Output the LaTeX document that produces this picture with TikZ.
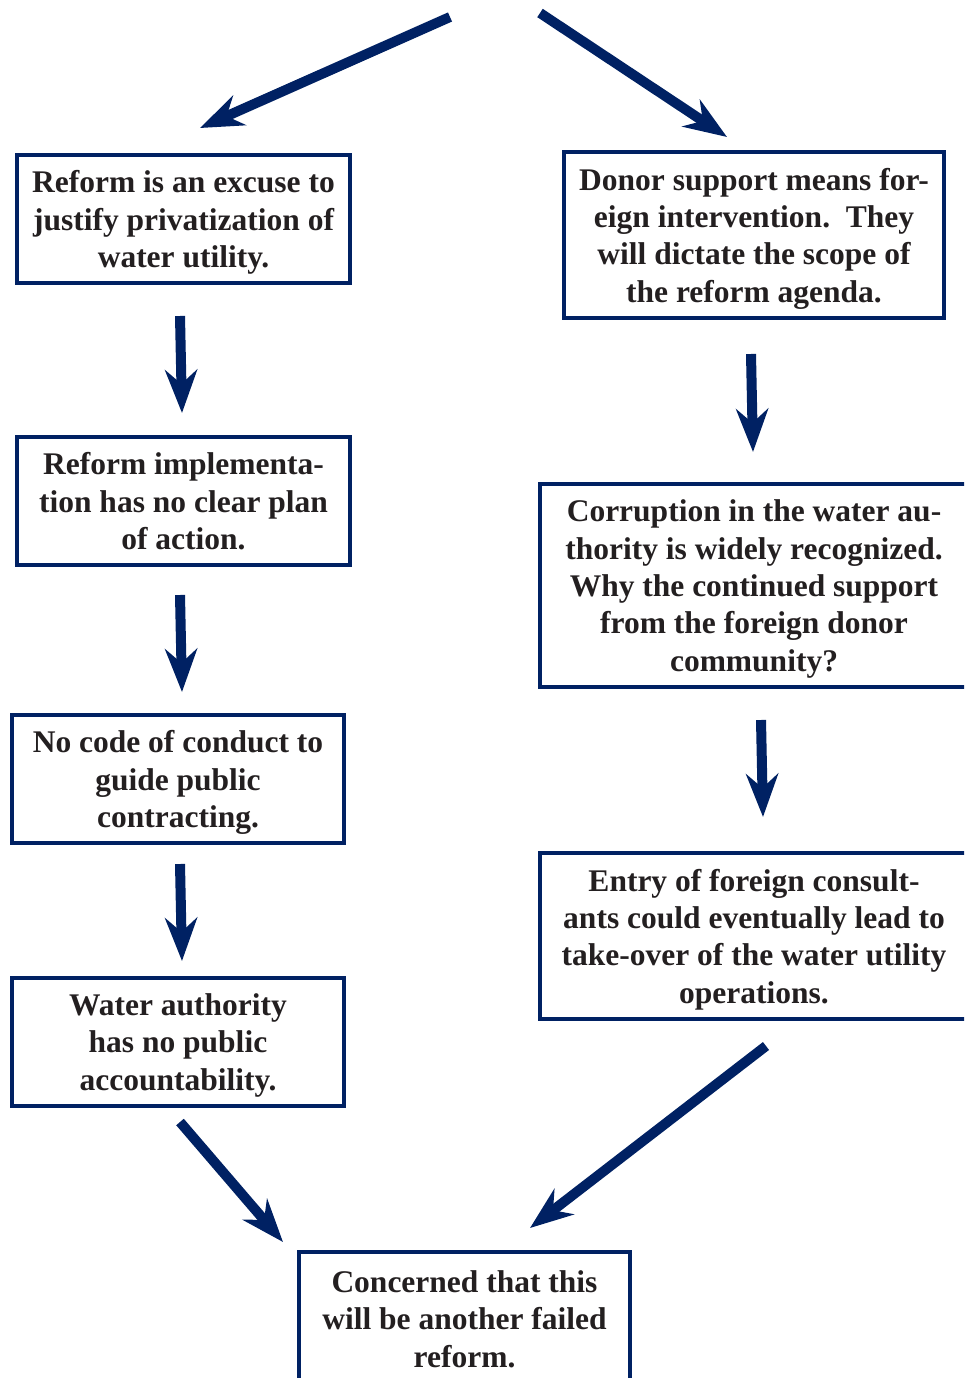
\documentclass[tikz,border=0pt]{standalone}
\usepackage{fontspec}
\setmainfont{Liberation Serif}
\usetikzlibrary{positioning, calc, arrows.meta}
\definecolor{navy}{RGB}{0,33,99}
\definecolor{ink}{RGB}{35,31,32}

\begin{document}
\begin{tikzpicture}[
    x=1pt, y=-1pt,
    box/.style={rectangle, draw=navy, line width=4pt, align=center, inner sep=0pt, text depth=0pt,
                text=ink, font=\fontsize{31.5}{37.3}\selectfont\bfseries},
    arrow/.style={-{Stealth[length=43pt, width=32pt, inset=14pt]}, draw=navy, line width=10pt}
]
    \useasboundingbox (0,0) rectangle (964,1378);
    \clip (0,0) rectangle (964,1378);

    % Start points of the two branches
    \coordinate (topL) at (450,17);
    \coordinate (topR) at (540,13);

    % Left chain
    \node[box, minimum width=333pt, minimum height=128pt] (l1) at (183.5,219)
        {Reform is an excuse to\\justify privatization of\\water utility.};
    \node[box, minimum width=333pt, minimum height=128pt] (l2) at (183.5,501)
        {Reform implementa-\\tion has no clear plan\\of action.};
    \node[box, minimum width=332pt, minimum height=128pt] (l3) at (178,779)
        {No code of conduct to\\guide public\\contracting.};
    \node[box, minimum width=332pt, minimum height=128pt] (l4) at (178,1042)
        {Water authority\\has no public\\accountability.};

    % Right chain
    \node[box, minimum width=380pt, minimum height=166pt] (r1) at (754,235)
        {Donor support means for-\\eign intervention.\ \ They\\will dictate the scope of\\the reform agenda.};
    \node[box, minimum width=428pt, minimum height=203pt] (r2) at (754,585.5)
        {Corruption in the water au-\\thority is widely recognized.\\Why the continued support\\from the foreign donor\\community?};
    \node[box, minimum width=428pt, minimum height=166pt] (r3) at (754,936)
        {Entry of foreign consult-\\ants could eventually lead to\\take-over of the water utility\\operations.};

    % Outcome
    \node[box, minimum width=331pt, minimum height=134pt] (fin) at (464.5,1319)
        {Concerned that this\\will be another failed\\reform.};

    % Arrows
    \draw[arrow] (topL) -- ([xshift=16.5pt, yshift=25pt]l1.north);
    \draw[arrow] (topR) -- ([xshift=-27pt, yshift=13pt]r1.north);

    \draw[arrow] ([xshift=-3.5pt, yshift=-31pt]l1.south) -- ([xshift=-1.5pt, yshift=22pt]l2.north);
    \draw[arrow] ([xshift=-3.5pt, yshift=-28pt]l2.south) -- ([xshift=4pt, yshift=21pt]l3.north);
    \draw[arrow] ([xshift=2pt, yshift=-19pt]l3.south) -- ([xshift=4pt, yshift=15pt]l4.north);

    \draw[arrow] ([xshift=-3pt, yshift=-34pt]r1.south) -- ([xshift=-1pt, yshift=30pt]r2.north);
    \draw[arrow] ([xshift=7pt, yshift=-31pt]r2.south) -- ([xshift=9pt, yshift=34pt]r3.north);

    \draw[arrow] ([xshift=2pt, yshift=-14pt]l4.south) -- ([xshift=-14pt, yshift=8pt]fin.north west);
    \draw[arrow] ([xshift=12pt, yshift=-25pt]r3.south) -- ([xshift=65.5pt, yshift=22pt]fin.north);

\end{tikzpicture}
\end{document}
